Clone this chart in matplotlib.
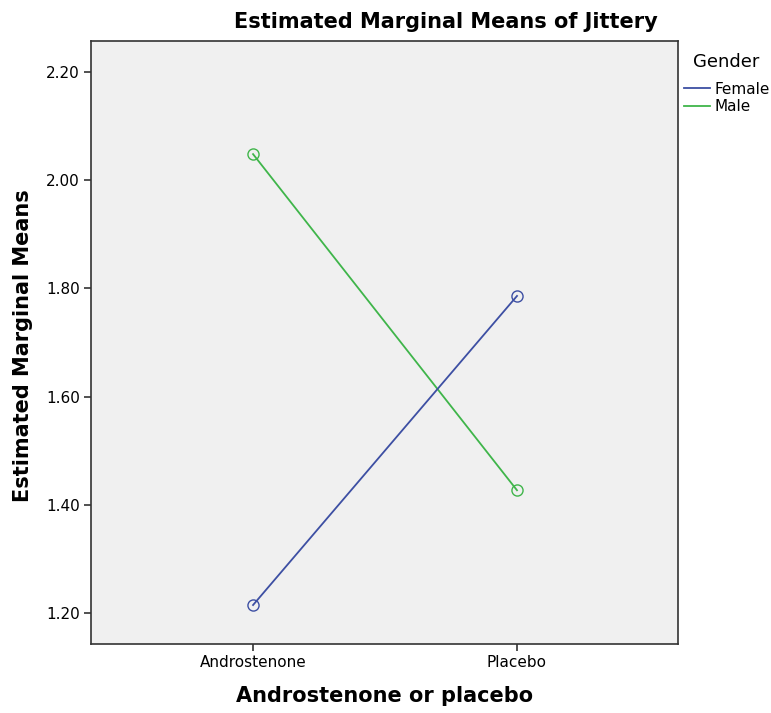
import matplotlib
matplotlib.use("Agg")
import matplotlib.pyplot as plt
from matplotlib.lines import Line2D

# values
conditions = ["Androstenone", "Placebo"]
female_means = [1.215, 1.786]
male_means = [2.048, 1.427]
y_ticks = [1.20, 1.40, 1.60, 1.80, 2.00, 2.20]

female_color = "#3d4fa3"
male_color = "#3fb54a"

plt.rcParams["font.family"] = ["DejaVu Sans"]

fig = plt.figure(figsize=(7.71, 7.13), dpi=100)
ax = fig.add_axes([91 / 771, 1 - 644 / 713, (678 - 91) / 771, (644 - 41) / 713])
ax.set_facecolor("#f0f0f0")

x = list(range(len(conditions)))
ax.plot(x, male_means, color=male_color, lw=1.3, marker="o", ms=8,
        mfc="none", mec=male_color, mew=1.0, zorder=3)
ax.plot(x, female_means, color=female_color, lw=1.3, marker="o", ms=8,
        mfc="none", mec=female_color, mew=1.0, zorder=3)

ax.set_xlim(-0.614, 1.61)
ax.set_ylim(1.143, 2.257)
ax.set_xticks(x)
ax.set_xticklabels(conditions, fontsize=11)
ax.set_yticks(y_ticks)
ax.set_yticklabels([f"{v:.2f}" for v in y_ticks], fontsize=11)
ax.tick_params(direction="out", length=5, width=1.2, color="#333333", pad=3)

for s in ax.spines.values():
    s.set_linewidth(1.2)
    s.set_color("#333333")

ax.set_xlabel("Androstenone or placebo", fontsize=15, fontweight="bold")
ax.xaxis.set_label_coords(0.5, -(686 - 644) / 603)
ax.set_ylabel("Estimated Marginal Means", fontsize=15, fontweight="bold")
# label coords give the right edge of the rotated text
ax.yaxis.set_label_coords(-(91 - 33) / 587, (644 - 346) / 603)

fig.text(446 / 771, 1 - 22 / 713, "Estimated Marginal Means of Jittery",
         ha="center", va="center", fontsize=15, fontweight="bold")

# legend sits outside the plot on the right
handles = [Line2D([], [], color=female_color, lw=1.3),
           Line2D([], [], color=male_color, lw=1.3)]
leg = fig.legend(handles, ["Female", "Male"], title="Gender",
                 loc="upper left", bbox_to_anchor=(679 / 771, 1 - 48 / 713),
                 frameon=False, fontsize=11, title_fontsize=13,
                 handlelength=1.75, handletextpad=0.25, labelspacing=0.15,
                 borderaxespad=0, borderpad=0.3)
leg._legend_box.sep = 8

fig.savefig("out.png", dpi=100)
